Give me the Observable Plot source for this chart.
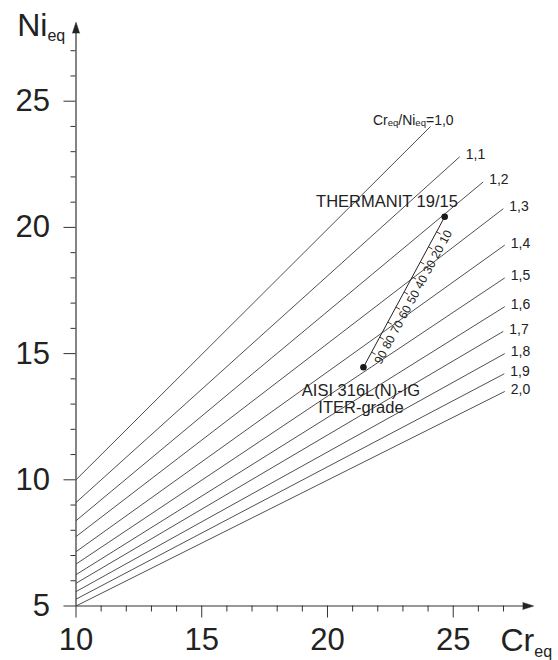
<!DOCTYPE html>
<html>
<head>
<meta charset="utf-8">
<script src="https://cdn.jsdelivr.net/npm/d3@7"></script>
<script src="https://cdn.jsdelivr.net/npm/@observablehq/plot@0.6"></script>
<style>
  html, body { margin: 0; padding: 0; background: #fff; }
  #chart { width: 558px; height: 660px; }
</style>
</head>
<body>
<div id="chart"></div>
<script>
// ---- data ----
const ratioLabels = ["1,0", "1,1", "1,2", "1,3", "1,4", "1,5", "1,6", "1,7", "1,8", "1,9", "2,0"];
const crStart = [10, 10, 10, 10, 10, 10, 10, 10, 10, 10, 10];
const niStart = [10.0, 9.1, 8.38, 7.75, 7.15, 6.66, 6.24, 5.9, 5.57, 5.27, 5.0];
const crEnd = [24.1, 25.26, 26.19, 26.99, 27.05, 27.05, 27.05, 26.99, 27.05, 27.03, 27.05];
const niEnd = [24.0, 22.8, 21.8, 20.74, 19.3, 18.0, 16.86, 15.88, 15.0, 14.2, 13.5];

const pointNames = ["THERMANIT 19/15", "AISI 316L(N)-IG\nITER-grade"];
const pointCr = [24.66, 21.43];
const pointNi = [20.42, 14.46];

const tieLabels = [10, 20, 30, 40, 50, 60, 70, 80, 90];

const xMajor = [10, 15, 20, 25];
const xMinor = [11, 12, 13, 14, 16, 17, 18, 19, 21, 22, 23, 24, 26, 27];
const yMajor = [5, 10, 15, 20, 25];
const yMinor = [6, 7, 8, 9, 11, 12, 13, 14, 16, 17, 18, 19, 21, 22, 23, 24, 26, 27];
const xTip = 28.2;
const yTip = 28.13;

// ---- layout ----
const W = 558, H = 660;
const mL = 75.5, mR = 24.8, mT = 21.7, mB = 54.5;
const ink = "#222";
const lineInk = "#3c3c3c";

const idx = d3.range(ratioLabels.length);

// tie line geometry (derived from the two end points)
const T = {x: pointCr[0], y: pointNi[0]};
const A = {x: pointCr[1], y: pointNi[1]};
const pxPerUnit = 25.2;
const dirX = A.x - T.x, dirY = A.y - T.y;
const len = Math.hypot(dirX, dirY);
// perpendicular pointing to the right/below the line (data coords, y up)
const ux = (T.x - A.x) / len, uy = (T.y - A.y) / len; // A -> T direction
const px = uy, py = -ux;
const tickLen = 4.5 / pxPerUnit;
const labOff = 10.5 / pxPerUnit;
const tiePts = tieLabels.map(k => ({
  k,
  x: T.x + (k / 100) * dirX,
  y: T.y + (k / 100) * dirY
}));
const angle = Math.atan2(-(T.y - A.y) * 25.24, (T.x - A.x) * 25.15) * 180 / Math.PI;

const chart = Plot.plot({
  width: W,
  height: H,
  marginLeft: mL,
  marginRight: mR,
  marginTop: mT,
  marginBottom: mB,
  x: {domain: [10, xTip], label: null},
  y: {domain: [5, yTip], label: null},
  style: {fontFamily: "'Liberation Sans', Arial, Helvetica, sans-serif", background: "#fff", color: ink},
  marks: [
    // ratio lines
    Plot.link(idx, {
      x1: i => crStart[i], y1: i => niStart[i],
      x2: i => crEnd[i], y2: i => niEnd[i],
      stroke: lineInk, strokeWidth: 0.9
    }),
    // ratio labels
    Plot.text(idx.filter(i => i > 0), {
      x: i => crEnd[i], y: i => niEnd[i], text: i => ratioLabels[i],
      textAnchor: "start", dx: 6, dy: -2, fontSize: 14, fill: ink
    }),
    Plot.text([0], {
      x: i => crEnd[i], y: i => niEnd[i], text: i => "Creq/Nieq=" + ratioLabels[i],
      textAnchor: "end", lineAnchor: "bottom", dx: 23, dy: -1, fontSize: 14, fill: ink
    }),
    // axes lines
    Plot.ruleY([5], {x1: 10, x2: xTip - 0.3, stroke: "#333", strokeWidth: 1.2}),
    Plot.ruleX([10], {y1: 5, y2: yTip - 0.3, stroke: "#333", strokeWidth: 1.2}),
    Plot.vector([0], {x: xTip - 11 / 25.15, y: 5, length: 11, r: 3.6, rotate: 90,
      shape: "spike", anchor: "start", fill: "#222", stroke: "#222", strokeWidth: 0.5}),
    Plot.vector([0], {x: 10, y: yTip - 11 / 25.24, length: 11, r: 3.6, rotate: 0,
      shape: "spike", anchor: "start", fill: "#222", stroke: "#222", strokeWidth: 0.5}),
    // ticks
    Plot.axisX(xMinor, {tickSize: 6, tickFormat: () => "", stroke: "#333", label: null}),
    Plot.axisX(xMajor, {tickSize: 12, tickPadding: 10, fontSize: 31, stroke: "#333", fill: ink, label: null}),
    Plot.axisY(yMinor, {tickSize: 5, tickFormat: () => "", stroke: "#333", label: null}),
    Plot.axisY(yMajor, {tickSize: 12, tickPadding: 14, fontSize: 31, stroke: "#333", fill: ink, label: null}),
    // tie line
    Plot.link([0], {x1: T.x, y1: T.y, x2: A.x, y2: A.y, stroke: "#222", strokeWidth: 1}),
    Plot.link(tiePts, {
      x1: "x", y1: "y",
      x2: d => d.x + px * tickLen, y2: d => d.y + py * tickLen,
      stroke: "#222", strokeWidth: 0.9
    }),
    Plot.text(tiePts, {
      x: d => d.x + px * labOff, y: d => d.y + py * labOff, text: d => String(d.k),
      rotate: angle, fontSize: 12, fill: ink
    }),
    Plot.dot([0, 1], {x: i => pointCr[i], y: i => pointNi[i], r: 3.3, fill: "#1a1a1a"}),
    Plot.text([0], {x: i => pointCr[i], y: i => pointNi[i], text: i => pointNames[i],
      textAnchor: "end", lineAnchor: "bottom", dx: 13.2, dy: -9.6, fontSize: 16.5, fill: ink}),
    Plot.text([1], {x: i => pointCr[i], y: i => pointNi[i], text: i => pointNames[i],
      textAnchor: "middle", lineAnchor: "top", dx: -2.5, dy: 16.5, lineHeight: 1.05, fontSize: 16.5, fill: ink}),
    // axis titles
    Plot.text(["Ni"], {frameAnchor: "top-left", dx: 16.7 - mL, dy: 35 - mT, textAnchor: "start",
      lineAnchor: "bottom", fontSize: 32, fill: ink}),
    Plot.text(["Cr"], {frameAnchor: "bottom-left", dx: 500 - mL, dy: 650 - (H - mB), textAnchor: "start",
      lineAnchor: "bottom", fontSize: 32, fill: ink})
  ]
});

// subscripts as tspans
const svg = d3.select(chart);
svg.selectAll("text").each(function() {
  const t = d3.select(this);
  const s = this.textContent;
  if (s === "Ni" || s === "Cr") {
    t.text(null);
    t.append("tspan").text(s);
    t.append("tspan").attr("font-size", 16).attr("dy", s === "Ni" ? 5 : 6).text("eq");
  } else if (s.startsWith("Creq/Nieq=")) {
    const rest = s.slice("Creq/Nieq=".length);
    t.text(null);
    t.append("tspan").text("Cr");
    t.append("tspan").attr("font-size", 9.5).attr("dy", 1).text("eq");
    t.append("tspan").attr("dy", -1).text("/Ni");
    t.append("tspan").attr("font-size", 9.5).attr("dy", 1).text("eq");
    t.append("tspan").attr("dy", -1).text("=" + rest);
  }
});

document.getElementById("chart").appendChild(chart);
</script>
</body>
</html>
